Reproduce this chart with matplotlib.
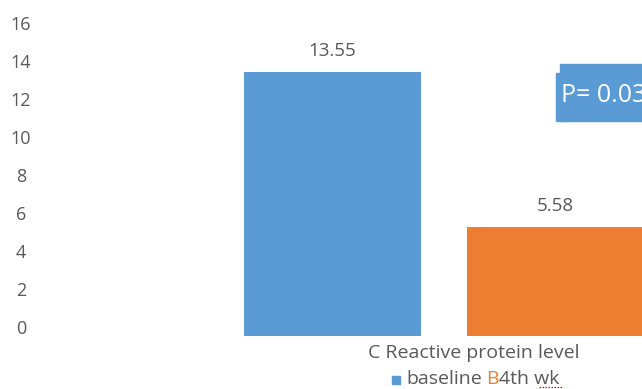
import matplotlib.pyplot as plt
from matplotlib.patches import Rectangle
from matplotlib.lines import Line2D

plt.rcParams['font.family'] = ['Open Sans', 'DejaVu Sans']

# data
groups = ["baseline", "4th wk"]
crp_values = [13.55, 5.58]
bar_colors = ["#5B9BD5", "#ED7D31"]
y_ticks = [0, 2, 4, 6, 8, 10, 12, 14, 16]
category = "C Reactive protein level"
p_text = "P= 0.03"

W, H = 642, 389
GRAY = "#595959"

fig = plt.figure(figsize=(W / 100, H / 100), dpi=100)


def fx(px):
    return px / W


def fy(py):
    return 1 - py / H


# bar area: baseline at y=336 px, value 16 at y=24 px, bars 223 px apart
left_px, right_px = 60, 642
ax = fig.add_axes([fx(left_px), fy(336), fx(right_px - left_px), fy(24) - fy(336)])
step = 223.0
x0 = 332.5
ax.set_xlim((left_px - x0) / step, (right_px - x0) / step)
ax.set_ylim(0, 16)
bars = ax.bar(range(len(crp_values)), crp_values, width=177 / step,
              color=bar_colors, clip_on=False)
for b, v in zip(bars, crp_values):
    ax.annotate(f"{v:.2f}", (b.get_x() + b.get_width() / 2, v),
                xytext=(0, 15), textcoords="offset points",
                ha="center", va="center", fontsize=13.5, color=GRAY,
                annotation_clip=False)
ax.axis("off")

# tick labels sit on their own scale (0 at 327 px, 16 at 23 px)
ax_t = fig.add_axes([fx(left_px), fy(327), 0.01, fy(23) - fy(327)])
ax_t.set_ylim(0, 16)
ax_t.set_yticks(y_ticks)
ax_t.set_yticklabels([str(t) for t in y_ticks])
ax_t.set_xticks([])
ax_t.tick_params(axis="y", length=0, pad=(left_px - 21) * 0.72, labelsize=13,
                 labelcolor=GRAY)
for lbl in ax_t.get_yticklabels():
    lbl.set_horizontalalignment("center")
for s in ax_t.spines.values():
    s.set_visible(False)
ax_t.patch.set_visible(False)

# category label
fig.text(fx(474), fy(353), category, ha="center", va="center",
         fontsize=14, color=GRAY)

# legend line
fig.patches.append(Rectangle((fx(392), fy(384)), fx(8), fy(376) - fy(384),
                             transform=fig.transFigure, color=bar_colors[0]))
fig.text(fx(406), fy(379), groups[0], ha="left", va="center",
         fontsize=14, color=GRAY)
fig.text(fx(486), fy(379), "B", ha="left", va="center",
         fontsize=14, color=bar_colors[1])
fig.text(fx(499), fy(379), groups[1], ha="left", va="center",
         fontsize=14, color=GRAY)
fig.lines.append(Line2D([fx(539), fx(562)], [fy(387), fy(387)],
                        transform=fig.transFigure, color="#FF0000",
                        lw=0.9, ls=(0, (1.2, 1.2))))

# p-value box
box = "#5B9BD5"
fig.patches.append(Rectangle((fx(560), fy(121)), fx(90), fy(64) - fy(121),
                             transform=fig.transFigure, color=box))
fig.patches.append(Rectangle((fx(556), fy(121)), fx(10), fy(73) - fy(121),
                             transform=fig.transFigure, color=box))
fig.text(fx(561), fy(95), p_text, ha="left", va="center",
         fontsize=18, color="white")

fig.savefig("out.png", dpi=100)
